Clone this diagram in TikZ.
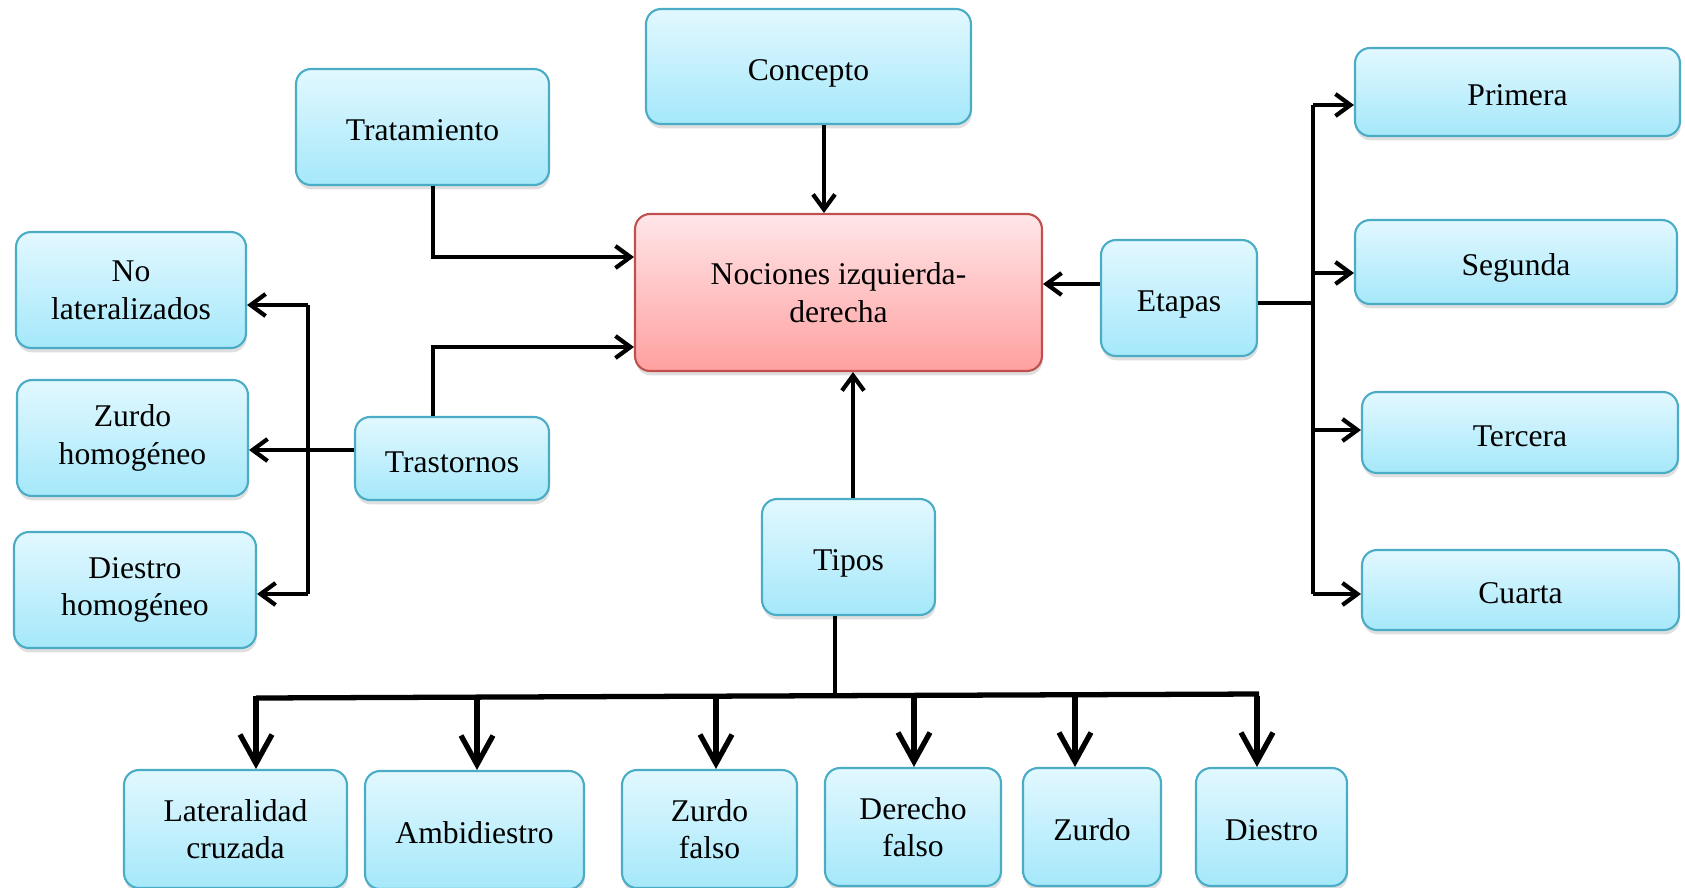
\documentclass[tikz,border=0pt]{standalone}
\usepackage{fontspec}
\setmainfont{Liberation Serif}
\usetikzlibrary{arrows.meta,calc,positioning,shadows}
\definecolor{skytop}{RGB}{226,248,255}
\definecolor{skybot}{RGB}{165,232,250}
\definecolor{skyline}{RGB}{75,172,198}
\definecolor{rosetop}{RGB}{255,230,232}
\definecolor{rosebot}{RGB}{255,160,160}
\definecolor{roseline}{RGB}{192,80,77}

\tikzset{
  box/.style={draw=skyline,line width=1.2pt,rounded corners=0.3cm,top color=skytop,bottom color=skybot,
    align=center,inner sep=2pt,font=\fontsize{18}{21.4}\selectfont,
    drop shadow={opacity=0.25,shadow xshift=0.5pt,shadow yshift=-2.5pt}},
  oneline/.style={box,text height=20pt,text depth=4.2pt},
  mainbox/.style={box,draw=roseline,top color=rosetop,bottom color=rosebot},
  wire/.style={line width=2.4pt},
  link/.style={wire,-{Straight Barb[length=0.3cm,width=0.44cm]}},
  biglink/.style={line width=3pt,-{Straight Barb[length=0.58cm,width=0.64cm]}}
}

\begin{document}
\begin{tikzpicture}[x=0.02cm,y=-0.02cm]
  \useasboundingbox (0,0) rectangle (1685,887);
  \clip (0,0) rectangle (1685,887);

  \node[mainbox,minimum width=8.14cm,minimum height=3.14cm] (noc) at (838.5,292.5) {Nociones izquierda-\\derecha};
  \node[oneline,minimum width=6.5cm,minimum height=2.3cm] (conc) at (808.5,66.5) {Concepto};
  \node[oneline,minimum width=5.06cm,minimum height=2.32cm] (trat) at (422.5,127) {Tratamiento};
  \node[oneline,minimum width=3.12cm,minimum height=2.32cm] (etap) at (1179,298) {Etapas};
  \node[oneline,minimum width=6.5cm,minimum height=1.76cm] (prim) at (1517.5,92) {Primera};
  \node[oneline,minimum width=6.44cm,minimum height=1.68cm] (seg) at (1516,262) {Segunda};
  \node[oneline,minimum width=6.32cm,minimum height=1.62cm] (ter) at (1520,432.5) {Tercera};
  \node[oneline,minimum width=6.34cm,minimum height=1.6cm] (cua) at (1520.5,590) {Cuarta};
  \node[box,minimum width=4.6cm,minimum height=2.32cm] (nolat) at (131,290) {No\\lateralizados};
  \node[box,minimum width=4.62cm,minimum height=2.32cm] (zh) at (132.5,438) {Zurdo\\homogéneo};
  \node[box,minimum width=4.84cm,minimum height=2.32cm] (dh) at (135,590) {Diestro\\homogéneo};
  \node[oneline,minimum width=3.88cm,minimum height=1.66cm] (tras) at (452,458.5) {Trastornos};
  \node[oneline,minimum width=3.46cm,minimum height=2.32cm] (tipos) at (848.5,557) {Tipos};
  \node[box,minimum width=4.46cm,minimum height=2.36cm] (lat) at (235.5,829) {Lateralidad\\cruzada};
  \node[oneline,minimum width=4.38cm,minimum height=2.36cm] (amb) at (474.5,830) {Ambidiestro};
  \node[box,minimum width=3.5cm,minimum height=2.36cm] (zfal) at (709.5,829) {Zurdo\\falso};
  \node[box,minimum width=3.52cm,minimum height=2.36cm] (dfal) at (913,827) {Derecho\\falso};
  \node[oneline,minimum width=2.76cm,minimum height=2.36cm] (zur) at (1092,827) {Zurdo};
  \node[oneline,minimum width=3.02cm,minimum height=2.36cm] (dies) at (1271.5,827) {Diestro};

  \coordinate (cdrop) at (824,0);
  \draw[link] (conc.south -| cdrop) -- (noc.north -| cdrop);
  \coordinate (tcorner) at (433,257);
  \draw[link] (trat.south -| tcorner) |- (noc.west |- tcorner);
  \coordinate (rcorner) at (433,347);
  \draw[link] (tras.north -| rcorner) |- (noc.west |- rcorner);
  \draw[link] (tipos.north -| 853,0) -- (noc.south -| 853,0);
  \coordinate (eleft) at (1101,284);
  \draw[link] (etap.west |- eleft) -- (noc.east |- eleft);

  \coordinate (ebus) at (1313,303);
  \draw[wire] (etap.east |- ebus) -- (ebus);
  \draw[wire] (1313,105) -- (1313,594);
  \foreach \n/\y in {prim/105,seg/273,ter/430,cua/594} {
    \coordinate (e\n) at (1313,\y);
    \draw[link] (e\n) -- (\n.west |- e\n);
  }

  \coordinate (lmid) at (308,450);
  \draw[link] (tras.west |- lmid) -- (zh.east |- lmid);
  \draw[wire] (308,305) -- (308,594);
  \foreach \n/\y in {nolat/305,dh/594} {
    \coordinate (l\n) at (308,\y);
    \draw[link] (l\n) -- (\n.east |- l\n);
  }

  \coordinate (tdrop) at (835,696);
  \draw[wire] (tipos.south -| tdrop) -- (tdrop);
  \draw[line width=3pt] (256,698) -- (1259,694);
  \foreach \n/\x in {lat/256,amb/477,zfal/716,dfal/914,zur/1075,dies/1257} {
    \coordinate (b\n) at (\x,696);
    \draw[biglink] (b\n) -- (\n.north -| b\n);
  }
\end{tikzpicture}
\end{document}
